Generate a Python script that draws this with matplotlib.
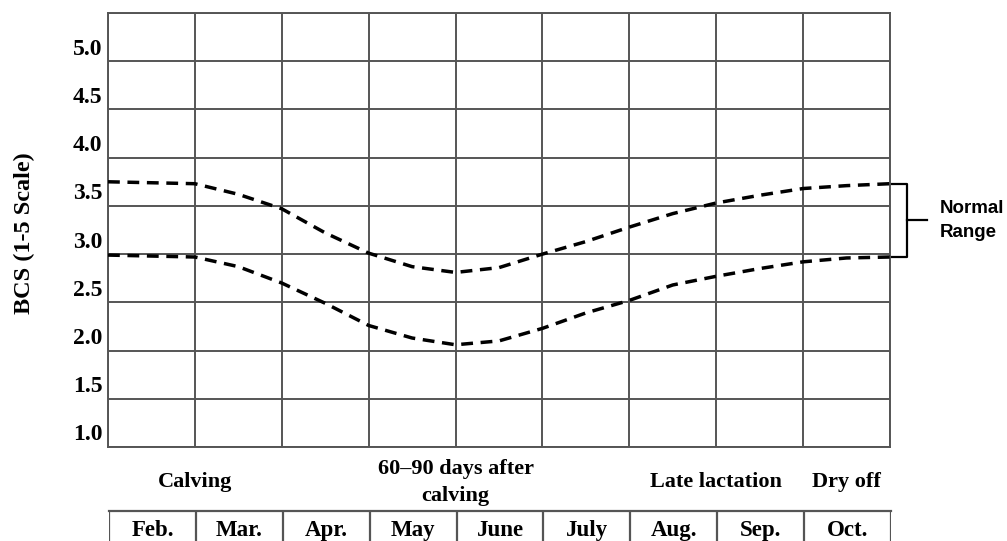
import matplotlib
matplotlib.use('Agg')
from matplotlib import pyplot as plt
from matplotlib import transforms

months = ['Feb.', 'Mar.', 'Apr.', 'May', 'June', 'July', 'Aug.', 'Sep.', 'Oct.']
# curve samples at every half month, from start of Feb. to end of Oct.
pos = [i * 0.5 for i in range(19)]
upper = [3.75, 3.74, 3.73, 3.62, 3.47, 3.22, 3.01, 2.87, 2.81, 2.86,
         3.00, 3.13, 3.28, 3.42, 3.53, 3.61, 3.68, 3.71, 3.73]
lower = [2.99, 2.98, 2.97, 2.87, 2.70, 2.49, 2.26, 2.13, 2.06, 2.10,
         2.23, 2.39, 2.52, 2.68, 2.77, 2.85, 2.92, 2.96, 2.97]
yticks = [1.0, 1.5, 2.0, 2.5, 3.0, 3.5, 4.0, 4.5, 5.0]
stages = [('Calving', 1), ('60\u201390 days after\ncalving', 4),
          ('Late lactation', 7), ('Dry off', 8.5)]

serif = ['Liberation Serif', 'DejaVu Serif']
grid_c = '#555555'
plt.rcParams['lines.scale_dashes'] = False

fig = plt.figure(figsize=(10.07, 5.41), dpi=100)
ax = fig.add_axes([108 / 1007, 1 - 447 / 541, 782 / 1007, 434 / 541])
ax.set_xlim(0, 9)
ax.set_ylim(1.0, 5.5)

for x in range(10):
    ax.axvline(x, color=grid_c, lw=1.4, zorder=1)
for y in yticks + [5.5]:
    ax.axhline(y, color=grid_c, lw=1.4, zorder=1)
for s in ax.spines.values():
    s.set_color(grid_c)
    s.set_linewidth(1.4)

for series in (upper, lower):
    ax.plot(pos, series, color='black', lw=2.5, dashes=(8.5, 5.5), zorder=3)

ax.set_xticks([])
ax.set_yticks(yticks)
ax.set_yticklabels(['%.1f' % v for v in yticks], fontfamily=serif,
                   fontweight='bold', fontsize=17)
ax.tick_params(axis='y', length=0, pad=4)
shift = transforms.ScaledTranslation(0, 0.12, fig.dpi_scale_trans)
for lbl in ax.get_yticklabels():
    lbl.set_transform(lbl.get_transform() + shift)
    lbl.set_va('center')

fig.text(24 / 1007, 1 - 233 / 541, 'BCS (1-5 Scale)', rotation=90,
         ha='center', va='center', fontfamily=serif, fontweight='bold', fontsize=17.5)

bt = transforms.blended_transform_factory(ax.transData, ax.transAxes)
for label, x in stages:
    ax.text(x, -0.081, label, transform=bt, ha='center', va='center',
            fontfamily=serif, fontweight='bold', fontsize=16, linespacing=1.45)

# bracket marking the normal range
bx0, bx1, bx2 = 9.0, 9.19, 9.43
ymid = (upper[-1] + lower[-1]) / 2
ax.plot([bx0, bx1, bx1, bx0], [upper[-1], upper[-1], lower[-1], lower[-1]],
        color='black', lw=1.6, clip_on=False, solid_joinstyle='round')
ax.plot([bx1, bx2], [ymid, ymid], color='black', lw=1.6, clip_on=False)
ax.text(9.57, ymid, 'Normal\nRange', ha='left', va='center',
        fontfamily=['Liberation Sans', 'DejaVu Sans'], fontweight='bold',
        fontsize=13.5, linespacing=1.55)

# month table under the chart
tab = fig.add_axes([109 / 1007, -0.05, 782 / 1007, 0.05 + 30 / 541])
tab.set_xlim(0, 9)
tab.set_ylim(0, 1)
tab.axis('off')
tab.axhline(1, color=grid_c, lw=1.6, clip_on=False)
for x in range(10):
    tab.axvline(x, color=grid_c, lw=1.6)
for i, m in enumerate(months):
    tab.text(i + 0.5, 1 - 19 / 57, m, ha='center', va='center',
             fontfamily=serif, fontweight='bold', fontsize=16.5)

fig.savefig('out.png', dpi=100)
